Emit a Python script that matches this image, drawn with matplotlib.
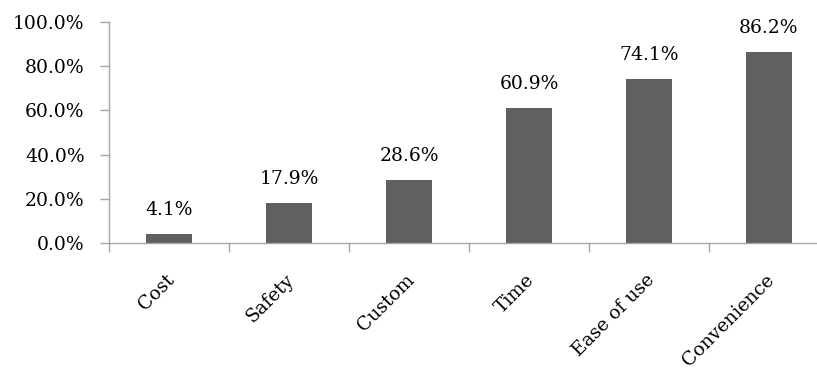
import matplotlib.pyplot as plt
import matplotlib.transforms as mtransforms
from matplotlib.ticker import FuncFormatter

categories = ["Cost", "Safety", "Custom", "Time", "Ease of use", "Convenience"]
shares = [4.1, 17.9, 28.6, 60.9, 74.1, 86.2]
y_ticks = [0, 20, 40, 60, 80, 100]

plt.rcParams['font.family'] = ['DejaVu Serif']
BAR = '#606060'
AXIS = '#A6A6A6'
FS = 13.5

fig = plt.figure(figsize=(8.17, 3.76), dpi=100)
# axes runs a little past the right edge, like the original layout
ax = fig.add_axes([109 / 817, 133 / 376, 720 / 817, 221 / 376])

x = list(range(len(categories)))
ax.bar(x, shares, width=0.39, color=BAR, zorder=2)

for xi, v in zip(x, shares):
    ax.annotate(f"{v:.1f}%", (xi, v), xytext=(0, 15), textcoords='offset pixels',
                ha='center', va='bottom', fontsize=FS, color='black')

ax.set_xlim(-0.5, len(categories) - 0.5)
ax.set_ylim(0, 100)
ax.set_yticks(y_ticks)
ax.yaxis.set_major_formatter(FuncFormatter(lambda v, _: f"{v:.1f}%"))

# category boundaries carry the x ticks, labels sit at bar centres
ax.set_xticks([i - 0.5 for i in range(len(categories))])
ax.set_xticklabels([])
ax.set_xticks(x, minor=True)
ax.set_xticklabels(categories, minor=True, rotation=45, ha='right',
                   rotation_mode='anchor', fontsize=FS)
ax.tick_params(axis='x', which='minor', length=0, pad=20)
ax.tick_params(axis='x', which='major', length=6.5, width=1, color=AXIS)
ax.tick_params(axis='y', length=6.5, width=1, color=AXIS, labelsize=FS, pad=11)

shift = mtransforms.ScaledTranslation(-4 / 100, 0, fig.dpi_scale_trans)
for lbl in ax.get_xticklabels(minor=True):
    lbl.set_transform(lbl.get_transform() + shift)

for side in ['top', 'right']:
    ax.spines[side].set_visible(False)
for side in ['left', 'bottom']:
    ax.spines[side].set_color(AXIS)
    ax.spines[side].set_linewidth(1)

fig.savefig('out.png', dpi=100)
